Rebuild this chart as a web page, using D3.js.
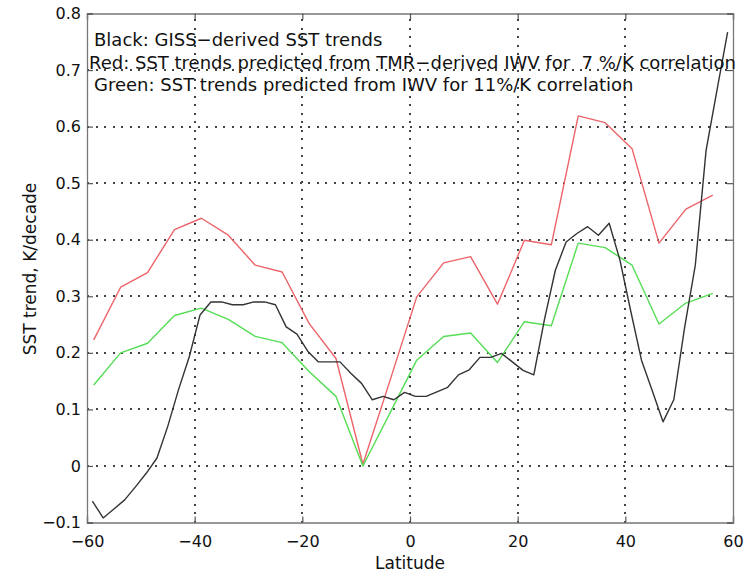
<!DOCTYPE html>
<html><head><meta charset="utf-8">
<script src="https://cdn.jsdelivr.net/npm/d3@7"></script>
<style>
body{margin:0;background:#fff}
text{font-family:"DejaVu Sans",sans-serif;fill:#111}
</style>
</head><body>
<svg id="chart" width="746" height="574"></svg>
<script>
// 5-degree latitude bins for predicted trends
const binLat = [-58.75,-53.75,-48.75,-43.75,-38.75,-33.75,-28.75,-23.75,-18.75,-13.75,-8.75,-3.75,
                1.25,6.25,11.25,16.25,21.25,26.25,31.25,36.25,41.25,46.25,51.25,56.25];
const redVals = [0.223,0.316,0.342,0.418,0.438,0.408,0.355,0.343,0.252,0.190,0.003,0.150,
                 0.299,0.359,0.370,0.286,0.399,0.391,0.619,0.607,0.561,0.394,0.454,0.479];
const greenVals = [0.143,0.200,0.217,0.266,0.279,0.259,0.229,0.218,0.167,0.123,0.000,0.093,
                   0.187,0.229,0.235,0.183,0.255,0.248,0.394,0.386,0.355,0.251,0.288,0.305];
// 2-degree latitudes for GISS-derived trends
const gissLat = [-59,-57,-55,-53,-51,-49,-47,-45,-43,-41,-39,-37,-35,-33,-31,-29,-27,-25,-23,-21,
                 -19,-17,-15,-13,-11,-9,-7,-5,-3,-1,1,3,5,7,9,11,13,15,17,19,
                 21,23,25,27,29,31,33,35,37,39,41,43,45,47,49,51,53,55,57,59];
const gissVals = [-0.062,-0.092,-0.076,-0.060,-0.037,-0.013,0.014,0.070,0.135,0.193,0.267,0.290,0.290,0.285,0.285,0.290,0.290,0.285,0.246,0.233,
                  0.203,0.184,0.184,0.184,0.164,0.146,0.117,0.123,0.117,0.130,0.123,0.123,0.131,0.139,0.161,0.170,0.192,0.192,0.199,0.184,
                  0.169,0.161,0.260,0.346,0.396,0.411,0.423,0.408,0.429,0.364,0.274,0.187,0.133,0.078,0.117,0.244,0.355,0.558,0.663,0.767];
const xTicks = [-60,-40,-20,0,20,40,60];
const yTicks = [-0.1,0,0.1,0.2,0.3,0.4,0.5,0.6,0.7,0.8];
const legendLines = [
  "Black: GISS\u2212derived SST trends",
  "Red: SST trends predicted from TMR\u2212derived IWV for  7 %/K correlation",
  "Green: SST trends predicted from IWV for 11%/K correlation"
];
const xLabel = "Latitude";
const yLabel = "SST trend, K/decade";

const L = 87, R = 733, T = 13.5, B = 522.5;
const svg = d3.select("#chart");
const x = d3.scaleLinear().domain([-60,60]).range([L,R]);
const y = d3.scaleLinear().domain([-0.1,0.8]).range([B,T]);

// grid (dotted)
const grid = svg.append("g").attr("stroke","#444").attr("stroke-width",1.8)
  .attr("stroke-dasharray","2,6.5").attr("shape-rendering","crispEdges");
grid.selectAll("line.gx").data(xTicks.slice(1,-1)).join("line").attr("class","gx")
  .attr("x1",d=>Math.round(x(d))).attr("x2",d=>Math.round(x(d))).attr("y1",B).attr("y2",T);
grid.selectAll("line.gy").data(yTicks.slice(1,-1)).join("line").attr("class","gy")
  .attr("y1",d=>Math.round(y(d))).attr("y2",d=>Math.round(y(d))).attr("x1",L).attr("x2",R);

// axes
const fmtY = d => d===0 ? "0" : d3.format(".1f")(d).replace("-","\u2212");
const fmtX = d => String(d).replace("-","\u2212");
const axB = svg.append("g").attr("transform",`translate(0,${B})`)
  .call(d3.axisBottom(x).tickValues(xTicks).tickSize(-6).tickPadding(13).tickFormat(fmtX));
const axT = svg.append("g").attr("transform",`translate(0,${T})`)
  .call(d3.axisTop(x).tickValues(xTicks).tickSize(-6).tickFormat(""));
const axL = svg.append("g").attr("transform",`translate(${L},0)`)
  .call(d3.axisLeft(y).tickValues(yTicks).tickSize(-6).tickPadding(6).tickFormat(fmtY));
const axR = svg.append("g").attr("transform",`translate(${R},0)`)
  .call(d3.axisRight(y).tickValues(yTicks).tickSize(-6).tickFormat(""));
[axB,axT,axL,axR].forEach(a=>{
  a.selectAll("path.domain").attr("stroke","#777").attr("stroke-width",1.3);
  a.selectAll(".tick line").attr("stroke","#555").attr("stroke-width",1.2);
  a.selectAll("text").attr("font-size",16).attr("font-family","DejaVu Sans").attr("fill","#111");
});

// lines
const line = d3.line().x(d=>x(d[0])).y(d=>y(d[1]));
const series = [
  {lat: binLat, vals: redVals, color: "#ec6469"},
  {lat: binLat, vals: greenVals, color: "#55dd55"},
  {lat: gissLat, vals: gissVals, color: "#333333"}
];
svg.append("g").selectAll("path").data(series).join("path")
  .attr("fill","none").attr("stroke",d=>d.color).attr("stroke-width",1.4)
  .attr("stroke-linejoin","round")
  .attr("d",d=>line(d.lat.map((l,i)=>[l,d.vals[i]])));

// legend text
const lx = [94,89,94], ly = [46,68.5,91];
svg.append("g").selectAll("text").data(legendLines).join("text")
  .attr("x",(d,i)=>lx[i]).attr("y",(d,i)=>ly[i]).attr("font-size",18)
  .style("white-space","pre").attr("xml:space","preserve").text(d=>d);

// axis labels
svg.append("text").attr("x",x(0)).attr("y",569).attr("text-anchor","middle")
  .attr("font-size",17).text(xLabel);
svg.append("text").attr("transform","translate(36,269) rotate(-90)").attr("text-anchor","middle")
  .attr("font-size",17).text(yLabel);
</script>
</body></html>
